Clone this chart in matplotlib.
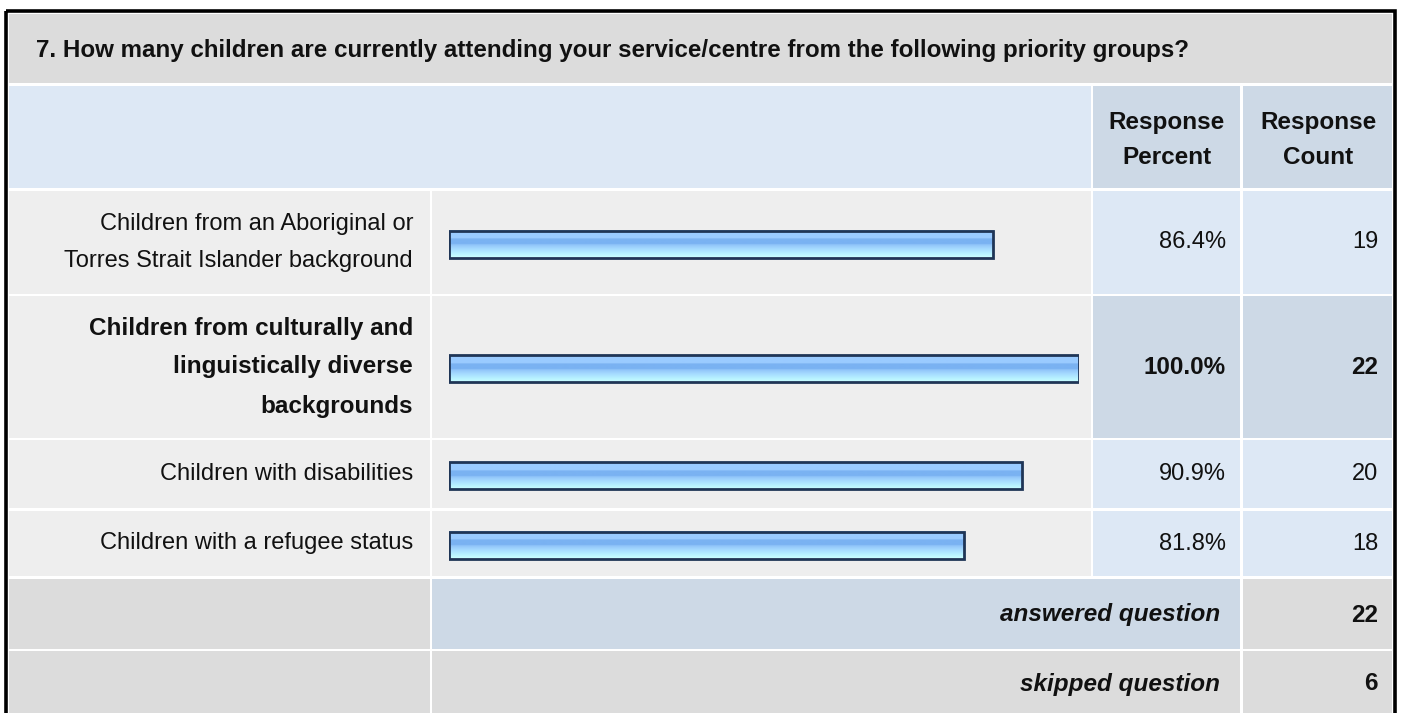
import numpy as np
import matplotlib.pyplot as plt
from matplotlib.patches import Rectangle
from matplotlib.colors import LinearSegmentedColormap

plt.rcParams['font.family'] = ['Liberation Sans', 'DejaVu Sans']

# data
title = "7. How many children are currently attending your service/centre from the following priority groups?"
categories = ["Children from an Aboriginal or\nTorres Strait Islander background",
              "Children from culturally and\nlinguistically diverse\nbackgrounds",
              "Children with disabilities",
              "Children with a refugee status"]
percents = [86.4, 100.0, 90.9, 81.8]
counts = [19, 22, 20, 18]
highlight = 1
answered = 22
skipped = 6

# layout (pixels)
W, H = 1401, 713
cols = [(9, 430), (432, 1091), (1093, 1240), (1243, 1392)]
rows = [(191, 294), (296, 438), (440, 508), (511, 576)]
title_row = (14, 83)
head_row = (86, 188)
ans_row = (579, 649)
skip_row = (651, 716)

GRAY = '#dcdcdc'
LIGHT = '#eeeeee'
BLUE = '#dde8f5'
DBLUE = '#cdd9e6'
TXT = '#111111'
FS = 17
FSB = 17.5

fig = plt.figure(figsize=(W / 100, H / 100), dpi=100)
ax = fig.add_axes([0, 0, 1, 1])
ax.set_xlim(0, W)
ax.set_ylim(H, 0)
ax.axis('off')


def cell(x0, x1, y0, y1, color):
    ax.add_patch(Rectangle((x0, y0), x1 - x0, y1 - y0, facecolor=color, edgecolor='none'))


# outer border
ax.add_patch(Rectangle((6, 11), 1389, 720, facecolor='none', edgecolor='black', lw=2.6))

cell(9, 1392, *title_row, GRAY)
ax.text(36, 51, title, fontsize=17.4, fontweight='bold', color=TXT, va='center', ha='left')

cell(9, 1091, *head_row, BLUE)
cell(*cols[2], *head_row, DBLUE)
cell(*cols[3], *head_row, DBLUE)
ax.text(1167, 122, "Response", fontsize=FSB, fontweight='bold', ha='center', va='center', color=TXT)
ax.text(1167, 158, "Percent", fontsize=FSB, fontweight='bold', ha='center', va='center', color=TXT)
ax.text(1318, 122, "Response", fontsize=FSB, fontweight='bold', ha='center', va='center', color=TXT)
ax.text(1318, 158, "Count", fontsize=FSB, fontweight='bold', ha='center', va='center', color=TXT)

centers = []
for i, (y0, y1) in enumerate(rows):
    cell(*cols[0], y0, y1, LIGHT)
    cell(*cols[1], y0, y1, LIGHT)
    c = DBLUE if i == highlight else BLUE
    cell(*cols[2], y0, y1, c)
    cell(*cols[3], y0, y1, c)
    yc = (y0 + y1) / 2
    centers.append(yc + 1.5)
    bold = 'bold' if i == highlight else 'normal'
    fs = FSB if i == highlight else FS
    lines = categories[i].split('\n')
    gap = 39 if i == highlight else 37
    for k, ln in enumerate(lines):
        ax.text(413, yc + (k - (len(lines) - 1) / 2) * gap, ln, fontsize=fs, fontweight=bold,
                ha='right', va='center', color=TXT)
    ax.text(1226, yc, f"{percents[i]:.1f}%", fontsize=fs, fontweight=bold, ha='right', va='center', color=TXT)
    ax.text(1378, yc, str(counts[i]), fontsize=fs, fontweight=bold, ha='right', va='center', color=TXT)

cell(*cols[0], *ans_row, GRAY)
cell(432, 1240, *ans_row, DBLUE)
cell(*cols[3], *ans_row, GRAY)
ya = sum(ans_row) / 2 + 1
ax.text(1220, ya, "answered question", fontsize=FSB, fontweight='bold', style='italic', ha='right', va='center', color=TXT)
ax.text(1378, ya, str(answered), fontsize=FSB, fontweight='bold', ha='right', va='center', color=TXT)

cell(*cols[0], *skip_row, GRAY)
cell(432, 1240, *skip_row, GRAY)
cell(*cols[3], *skip_row, GRAY)
ys = 684
ax.text(1220, ys, "skipped question", fontsize=FSB, fontweight='bold', style='italic', ha='right', va='center', color=TXT)
ax.text(1378, ys, str(skipped), fontsize=FSB, fontweight='bold', ha='right', va='center', color=TXT)

# bars: own axes with 0-100 scale
bx = fig.add_axes([449 / W, 0, 630 / W, 1])
bx.set_xlim(0, 100)
bx.set_ylim(H, 0)
bx.axis('off')
bx.patch.set_alpha(0)

cmap = LinearSegmentedColormap.from_list('bar', [
    (0.0, '#9acbff'), (0.30, '#9acbff'), (0.31, '#7ab2f2'), (0.52, '#7ab2f2'),
    (0.53, '#8ec2f8'), (0.68, '#a4d8ff'), (0.84, '#b4eeff'), (1.0, '#c8ffff')])
grad = np.linspace(0, 1, 64).reshape(-1, 1)
bh = 27
for yc, p in zip(centers, percents):
    bx.imshow(grad, cmap=cmap, aspect='auto', origin='upper',
              extent=(0, p, yc + bh / 2, yc - bh / 2), interpolation='bilinear')
bx.barh(centers, percents, height=bh, left=0, facecolor='none', edgecolor='#1f3556', lw=2)
bx.set_xlim(0, 100)
bx.set_ylim(H, 0)

fig.savefig('out.png', dpi=100)
